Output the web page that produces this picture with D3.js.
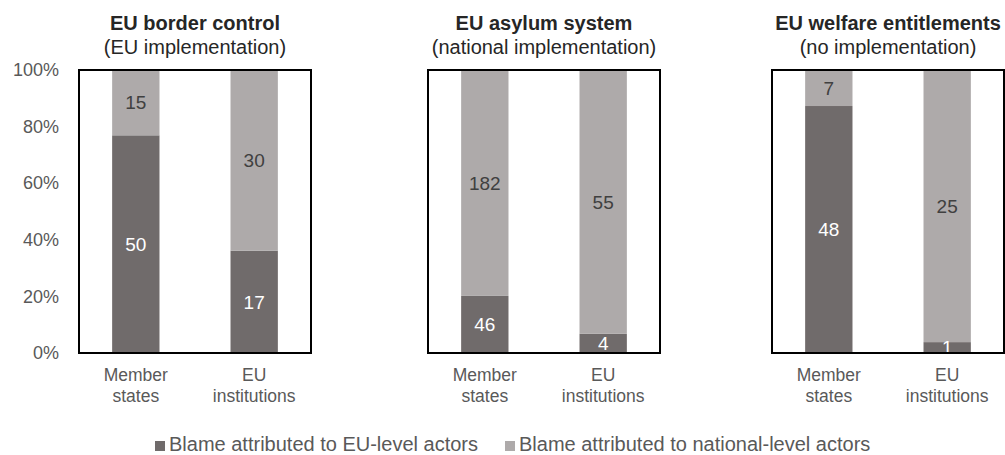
<!DOCTYPE html>
<html>
<head>
<meta charset="utf-8">
<script src="https://cdn.jsdelivr.net/npm/d3@7"></script>
<style>
  body { margin: 0; background: #fff; }
  svg text { font-family: "Liberation Sans", Arial, sans-serif; }
</style>
</head>
<body>
<div id="chart"></div>
<script>
// panels
const panelTitles = ["EU border control", "EU asylum system", "EU welfare entitlements"];
const panelSubtitles = ["(EU implementation)", "(national implementation)", "(no implementation)"];
const categories = ["Member states", "EU institutions"];

// counts per panel: [Member states, EU institutions]
const euLevel = [[50, 17], [46, 4], [48, 1]];
const nationalLevel = [[15, 30], [182, 55], [7, 25]];

const yTicks = [0, 0.2, 0.4, 0.6, 0.8, 1];
const legendLabels = ["Blame attributed to EU-level actors", "Blame attributed to national-level actors"];
const colors = ["#706b6b", "#aeaaaa"];

const width = 1005, height = 455;
const svg = d3.select("#chart").append("svg")
  .attr("width", width)
  .attr("height", height);

const panelLeft = [79, 428, 772];
const panelW = 232;
const plotTop = 70, plotBottom = 353;

const y = d3.scaleLinear().domain([0, 1]).range([plotBottom, plotTop]);

// y axis (only on first panel)
const yAxis = d3.axisLeft(y).tickValues(yTicks).tickFormat(d3.format(".0%")).tickSize(0).tickPadding(20);
const yg = svg.append("g").attr("transform", "translate(" + panelLeft[0] + ",0)").call(yAxis);
yg.select(".domain").remove();
yg.selectAll("text").attr("font-size", 18).attr("fill", "#595959");

panelTitles.forEach((title, i) => {
  const g = svg.append("g").attr("transform", "translate(" + panelLeft[i] + ",0)");

  const x = d3.scaleBand()
    .domain(categories)
    .range([0, panelW])
    .paddingInner(0.6)
    .paddingOuter(0.28);

  const rows = categories.map((c, j) => {
    const total = euLevel[i][j] + nationalLevel[i][j];
    return { cat: c, eu: euLevel[i][j], nat: nationalLevel[i][j], euShare: euLevel[i][j] / total };
  });

  // dark part (EU-level)
  g.selectAll(".bar-eu").data(rows).enter().append("rect")
    .attr("class", "bar-eu")
    .attr("x", d => x(d.cat))
    .attr("width", x.bandwidth())
    .attr("y", d => y(d.euShare))
    .attr("height", d => y(0) - y(d.euShare))
    .attr("fill", colors[0]);

  // light part (national-level)
  g.selectAll(".bar-nat").data(rows).enter().append("rect")
    .attr("class", "bar-nat")
    .attr("x", d => x(d.cat))
    .attr("width", x.bandwidth())
    .attr("y", y(1))
    .attr("height", d => y(d.euShare) - y(1))
    .attr("fill", colors[1]);

  // value labels
  g.selectAll(".lab-eu").data(rows).enter().append("text")
    .attr("x", d => x(d.cat) + x.bandwidth() / 2)
    .attr("y", d => (y(0) + y(d.euShare)) / 2)
    .attr("dy", "0.36em")
    .attr("text-anchor", "middle")
    .attr("font-size", 19)
    .attr("fill", "#ffffff")
    .text(d => d.eu);

  g.selectAll(".lab-nat").data(rows).enter().append("text")
    .attr("x", d => x(d.cat) + x.bandwidth() / 2)
    .attr("y", d => (y(1) + y(d.euShare)) / 2)
    .attr("dy", "0.36em")
    .attr("text-anchor", "middle")
    .attr("font-size", 19)
    .attr("fill", "#404040")
    .text(d => d.nat);

  // frame
  g.append("rect")
    .attr("x", 0).attr("y", plotTop)
    .attr("width", panelW).attr("height", plotBottom - plotTop)
    .attr("fill", "none")
    .attr("stroke", "#000")
    .attr("stroke-width", 2);

  // category labels
  const cl = g.selectAll(".cat").data(categories).enter().append("text")
    .attr("text-anchor", "middle")
    .attr("font-size", 17.5)
    .attr("fill", "#595959");
  cl.each(function(c) {
    const parts = c === "Member states" ? ["Member", "states"] : ["EU", "institutions"];
    d3.select(this).selectAll("tspan").data(parts).enter().append("tspan")
      .attr("x", x(c) + x.bandwidth() / 2)
      .attr("y", (d, k) => 381 + k * 21)
      .text(d => d);
  });

  // titles
  g.append("text")
    .attr("x", panelW / 2).attr("y", 30)
    .attr("text-anchor", "middle")
    .attr("font-size", 20)
    .attr("font-weight", "bold")
    .attr("fill", "#262626")
    .text(title);
  g.append("text")
    .attr("x", panelW / 2).attr("y", 54)
    .attr("text-anchor", "middle")
    .attr("font-size", 20)
    .attr("fill", "#262626")
    .text(panelSubtitles[i]);
});

// legend
const legend = svg.append("g").attr("transform", "translate(155,451)");
const legX = [0, 350];
legendLabels.forEach((l, i) => {
  legend.append("rect")
    .attr("x", legX[i]).attr("y", -10)
    .attr("width", 10).attr("height", 10)
    .attr("fill", colors[i]);
  legend.append("text")
    .attr("x", legX[i] + 14).attr("y", 0)
    .attr("font-size", 20)
    .attr("fill", "#595959")
    .text(l);
});
</script>
</body>
</html>
